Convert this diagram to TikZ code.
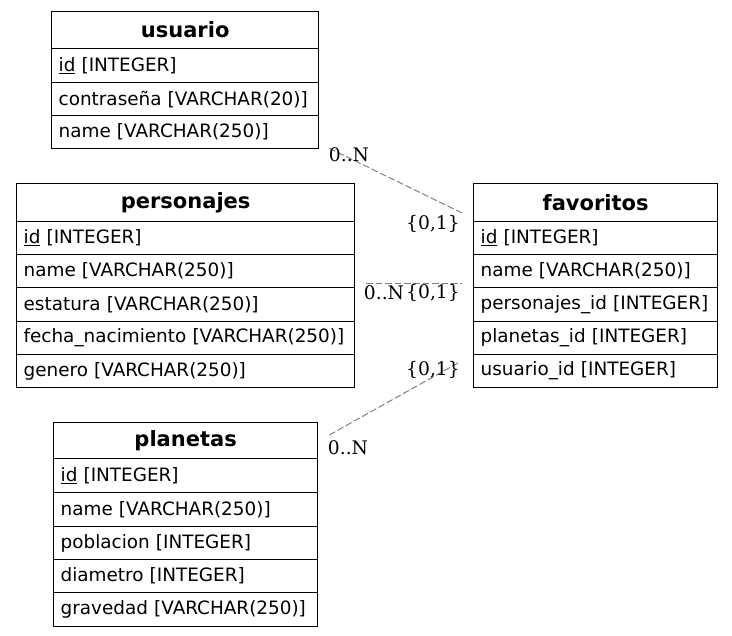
\documentclass[tikz,border=0pt]{standalone}
\usepackage{fontspec}
\setmainfont{DejaVu Sans}
\newfontfamily\labfont{DejaVu Serif}
\usetikzlibrary{calc}
\begin{document}
\begin{tikzpicture}[x=1pt,y=-1pt,
  tbox/.style={draw=black, line width=1.3pt, inner xsep=7pt, inner ysep=0pt, anchor=north west},
  hdr/.style={tbox, font=\fontsize{21}{25}\bfseries\selectfont, align=center},
  fld/.style={tbox, font=\fontsize{18.4}{22}\selectfont, align=left},
  rel/.style={draw=gray, line width=1pt, dash pattern=on 6.7pt off 2.7pt},
  card/.style={font=\labfont\fontsize{18.7}{22}\selectfont, inner sep=0pt}]
\useasboundingbox (0,0) rectangle (732,636);
% usuario
\begin{scope}[every node/.append style={text width=253pt}]
\node[hdr, minimum height=37pt] (usu-hdr) at (51,11) {usuario};
\node[fld, minimum height=34pt] (usu-id) at (51,48) {\underline{id} [INTEGER]};
\node[fld, minimum height=33pt] (usu-pw) at (51,82) {contraseña [VARCHAR(20)]};
\node[fld, minimum height=33pt] (usu-name) at (51,115) {name [VARCHAR(250)]};
\end{scope}
% personajes
\begin{scope}[every node/.append style={text width=324pt}]
\node[hdr, minimum height=38pt] (per-hdr) at (16,183) {personajes};
\node[fld, minimum height=33pt] (per-id) at (16,221) {\underline{id} [INTEGER]};
\node[fld, minimum height=33pt] (per-name) at (16,254) {name [VARCHAR(250)]};
\node[fld, minimum height=34pt] (per-est) at (16,287) {estatura [VARCHAR(250)]};
\node[fld, minimum height=33pt] (per-fec) at (16,321) {fecha\_nacimiento [VARCHAR(250)]};
\node[fld, minimum height=33pt] (per-gen) at (16,354) {genero [VARCHAR(250)]};
\end{scope}
% favoritos
\begin{scope}[every node/.append style={text width=230pt}]
\node[hdr, minimum height=38pt] (fav-hdr) at (473,183) {favoritos};
\node[fld, minimum height=33pt] (fav-id) at (473,221) {\underline{id} [INTEGER]};
\node[fld, minimum height=33pt] (fav-name) at (473,254) {name [VARCHAR(250)]};
\node[fld, minimum height=34pt] (fav-per) at (473,287) {personajes\_id [INTEGER]};
\node[fld, minimum height=33pt] (fav-pla) at (473,321) {planetas\_id [INTEGER]};
\node[fld, minimum height=33pt] (fav-usu) at (473,354) {usuario\_id [INTEGER]};
\end{scope}
% planetas
\begin{scope}[every node/.append style={text width=250pt}]
\node[hdr, minimum height=36pt] (pla-hdr) at (53,422) {planetas};
\node[fld, minimum height=34pt] (pla-id) at (53,458) {\underline{id} [INTEGER]};
\node[fld, minimum height=34pt] (pla-name) at (53,492) {name [VARCHAR(250)]};
\node[fld, minimum height=33pt] (pla-pob) at (53,526) {poblacion [INTEGER]};
\node[fld, minimum height=33pt] (pla-dia) at (53,559) {diametro [INTEGER]};
\node[fld, minimum height=34pt] (pla-gra) at (53,592) {gravedad [VARCHAR(250)]};
\end{scope}
% connector ends
\coordinate (e1s) at ($(usu-name.south east)+(10,-1)$);
\coordinate (e1e) at ($(fav-id.north west)+(-11,-8)$);
\coordinate (e2s) at ($(per-est.north east)+(11,-3)$);
\coordinate (e2e) at ($(fav-per.north west)+(-11,-3)$);
\coordinate (e3s) at ($(pla-hdr.north east)+(11,13)$);
\coordinate (e3e) at ($(fav-usu.north west)+(-15,9)$);
\draw[rel] (e1s) -- (e1e);
\draw[rel] (e2s) -- (e2e);
\draw[rel] (e3s) -- (e3e);
% cardinalities
\node[card] (c1s) at (349,155) {0..N};
\node[card] (c1e) at (433,224) {\{0,1\}};
\node[card] (c2s) at (384,293) {0..N};
\node[card] (c2e) at (433,293) {\{0,1\}};
\node[card] (c3s) at (348,448) {0..N};
\node[card] (c3e) at (433,370) {\{0,1\}};
\end{tikzpicture}
\end{document}
